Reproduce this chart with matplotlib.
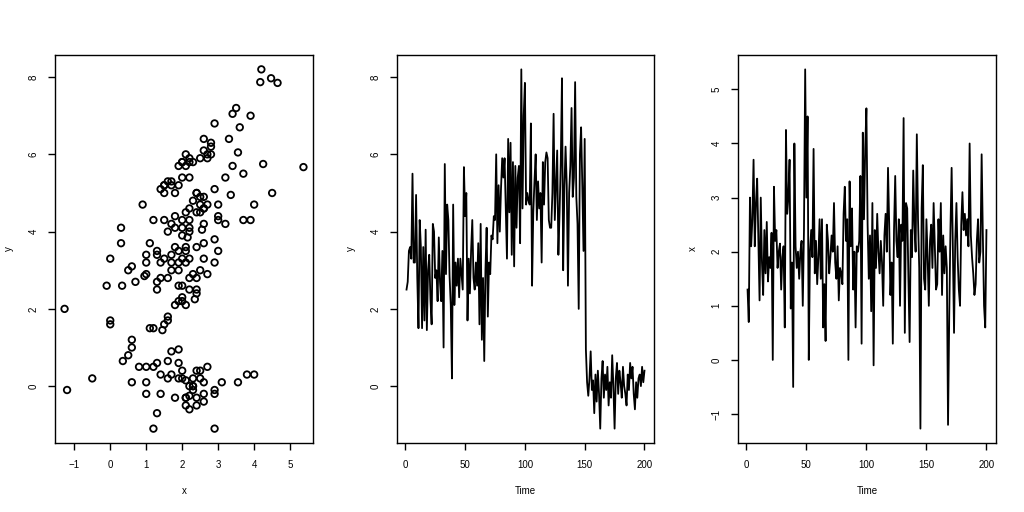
import numpy as np
import matplotlib
matplotlib.use("Agg")
import matplotlib.pyplot as plt

# y series (middle panel), read by eye, t = 1..200
y_vals = [
    2.5, 2.7, 3.5, 3.6, 3.3, 5.5, 3.2, 3.2, 4.95, 2.8,
    1.5, 4.3, 3.6, 1.5, 3.6, 1.7, 4.05, 1.45, 3.0, 3.4,
    2.25, 1.6, 4.2, 4.0, 2.8, 3.0, 2.2, 3.85, 2.7, 2.2,
    3.5, 1.0, 5.75, 2.9, 4.7, 4.3, 2.85, 2.1, 0.2, 4.7,
    2.1, 3.2, 2.6, 3.3, 2.3, 3.3, 2.9, 2.5, 5.67, 4.4,
    5.0, 1.7, 3.3, 2.4, 3.5, 4.3, 2.8, 2.5, 3.2, 2.6,
    3.7, 1.6, 4.2, 1.2, 2.8, 0.65, 3.0, 4.1, 1.8, 3.2,
    2.9, 3.9, 3.8, 4.4, 4.3, 6.0, 3.7, 5.2, 4.0, 5.1,
    5.9, 5.4, 5.9, 4.6, 3.3, 6.4, 4.5, 6.3, 3.4, 5.8,
    3.1, 5.7, 4.1, 5.4, 5.7, 3.7, 8.2, 4.6, 7.0, 7.85,
    4.7, 5.0, 4.8, 4.7, 6.8, 2.6, 4.5, 5.3, 6.0, 4.3,
    5.3, 4.6, 5.0, 3.2, 5.8, 4.7, 5.8, 6.05, 5.9, 4.3,
    4.1, 4.1, 5.0, 7.05, 4.3, 5.2, 6.1, 3.4, 4.5, 5.8,
    7.97, 3.0, 5.1, 6.2, 5.2, 2.6, 5.0, 5.7, 7.2, 4.9,
    5.4, 7.87, 4.9, 4.2, 2.0, 6.0, 6.7, 5.2, 3.5, 6.4,
    0.95, 0.1, -0.25, 0.2, 0.9, -0.1, 0.15, -0.7, 0.3, -0.4,
    0.4, -0.2, -1.1, 0.2, 0.65, -0.3, 0.3, -0.1, 0.5, -0.5,
    0.1, -0.3, 0.8, 0.0, -1.1, 0.2, 0.6, -0.2, 0.4, 0.1,
    -0.3, 0.5, 0.0, -0.2, -0.5, 0.3, -0.1, 0.6, 0.2, 0.5,
    -0.2, -0.6, 0.1, -0.3, 0.2, 0.3, 0.0, 0.5, 0.1, 0.4,
]

# x series (right panel), t = 1..200
x_vals = [
    1.3, 0.7, 3.0, 2.1, 2.6, 3.7, 2.1, 2.9, 3.35, 2.2,
    1.1, 3.0, 1.8, 1.2, 2.4, 1.6, 2.55, 1.45, 1.9, 1.7,
    2.35, 0.0, 3.2, 2.2, 2.4, 1.7, 2.0, 2.15, 1.3, 1.9,
    2.1, 0.6, 4.25, 2.7, 3.0, 3.7, 0.95, 1.8, -0.5, 4.0,
    2.1, 1.7, 2.0, 1.5, 2.0, 2.2, 1.0, 2.4, 5.37, 3.0,
    4.5, 0.0, 2.0, 2.4, 1.9, 3.9, 1.6, 2.2, 1.4, 1.9,
    2.6, 1.5, 2.6, 0.6, 1.4, 0.35, 2.5, 2.2, 1.6, 1.9,
    2.3, 2.0, 2.9, 1.8, 1.5, 2.1, 1.1, 1.7, 1.6, 1.4,
    2.7, 3.2, 2.2, 2.6, 0.0, 3.3, 2.1, 2.8, 1.3, 2.0,
    0.6, 2.1, 2.0, 2.2, 3.4, 0.3, 4.2, 2.6, 3.9, 4.65,
    2.5, 1.5, 2.3, 0.9, 2.9, -0.1, 2.4, 1.7, 2.7, 2.0,
    1.6, 2.2, 1.8, 1.0, 2.3, 2.7, 2.0, 3.55, 2.5, 1.2,
    1.8, 0.3, 2.4, 3.4, 2.2, 1.9, 2.6, 1.0, 2.5, 2.2,
    4.47, 0.5, 2.9, 2.8, 1.5, 0.33, 2.4, 1.9, 3.5, 2.5,
    2.0, 4.17, 2.6, 1.7, -1.27, 2.8, 3.6, 1.5, 1.3, 2.6,
    1.9, 1.0, 2.2, 2.5, 1.7, 2.9, 2.1, 1.3, 1.4, 2.6,
    2.0, 2.9, 1.2, 2.3, 1.6, 2.1, 1.7, -1.2, 0.8, 2.4,
    3.55, 2.1, 0.5, 2.2, 2.9, 1.9, 1.3, 1.0, 2.5, 3.1,
    2.4, 2.7, 2.3, 2.6, 2.1, 4.0, 2.3, 1.9, 1.6, 1.2,
    1.4, 2.2, 2.6, 1.8, 2.0, 3.8, 2.3, 1.0, 0.6, 2.4,
]

time = np.arange(1, len(y_vals) + 1)

plt.rcParams['font.family'] = ['Liberation Sans', 'DejaVu Sans']
plt.rcParams['font.size'] = 7

fig = plt.figure(figsize=(10.24, 5.12), dpi=100)
ax1 = fig.add_axes([55/1024, 69/512, 258/1024, 388/512])
ax2 = fig.add_axes([397/1024, 69/512, 257/1024, 388/512])
ax3 = fig.add_axes([738/1024, 69/512, 258/1024, 388/512])

# scatter of y against x
ax1.scatter(x_vals, y_vals, s=22, facecolors='none', edgecolors='black', linewidths=1.3)
ax1.set_xticks([-1, 0, 1, 2, 3, 4, 5])
ax1.set_yticks([0, 2, 4, 6, 8])
ax1.set_xlabel('x')
ax1.set_ylabel('y')

ax2.plot(time, y_vals, color='black', lw=1.3)
ax2.set_xticks([0, 50, 100, 150, 200])
ax2.set_yticks([0, 2, 4, 6, 8])
ax2.set_xlabel('Time')
ax2.set_ylabel('y')

ax3.plot(time, x_vals, color='black', lw=1.3)
ax3.set_xticks([0, 50, 100, 150, 200])
ax3.set_yticks([-1, 0, 1, 2, 3, 4, 5])
ax3.set_xlabel('Time')
ax3.set_ylabel('x')

for ax in (ax1, ax2, ax3):
    ax.margins(0.04)
    ax.tick_params(direction='out', length=5, width=1, pad=7, labelsize=7)
    for lbl in ax.get_yticklabels():
        lbl.set_rotation(90)
        lbl.set_va('center')
    for sp in ax.spines.values():
        sp.set_linewidth(1.0)
    ax.xaxis.labelpad = 12
    ax.yaxis.labelpad = 10

fig.savefig('out.png', dpi=100)
